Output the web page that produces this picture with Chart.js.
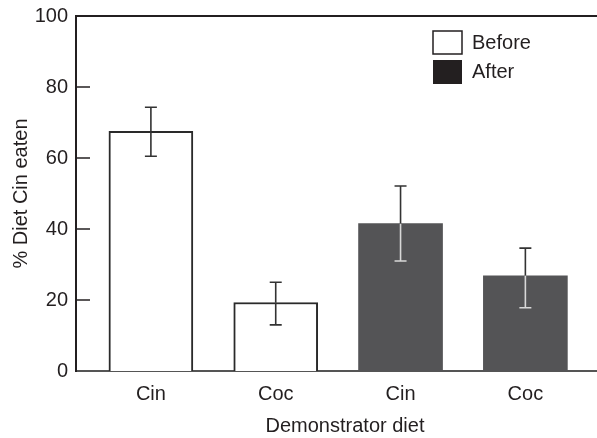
<!DOCTYPE html>
<html lang="en">
<head>
  <meta charset="UTF-8">
  <title>Demonstrator diet</title>
  <script src="https://cdn.jsdelivr.net/npm/chart.js"></script>
  <style>
    html, body { margin: 0; padding: 0; background: #fff; overflow: hidden; }
    canvas { display: block; }
  </style>
</head>
<body>
  <canvas id="dietChart" width="614" height="438"></canvas>

<script>
// data
const categories = ['Cin', 'Coc', 'Cin', 'Coc'];
const groupLabels = ['Before', 'After'];
const beforeValues = [67.5, 19.3];
const afterValues = [41.5, 26.8];
const errLow = [60.5, 13.0, 31.0, 17.8];
const errHigh = [74.3, 25.0, 52.1, 34.6];
const yTicks = [0, 20, 40, 60, 80, 100];

const FONT = '"Liberation Sans", Arial, Helvetica, sans-serif';
const INK = '#231f20';

const beforeData = beforeValues.map((v, i) => ({ x: i + 1, y: v }));
const afterData = afterValues.map((v, i) => ({ x: i + 3, y: v }));
const allValues = beforeValues.concat(afterValues);

// error bars, inward y ticks, top frame line and legend
const extras = {
  id: 'extras',
  afterDatasetsDraw(chart) {
    const ctx = chart.ctx;
    const xs = chart.scales.x, ys = chart.scales.y;
    const area = chart.chartArea;
    ctx.save();
    ctx.lineWidth = 1.6;
    allValues.forEach((v, i) => {
      const x = xs.getPixelForValue(i + 1);
      const yl = ys.getPixelForValue(errLow[i]);
      const yh = ys.getPixelForValue(errHigh[i]);
      const ym = ys.getPixelForValue(v);
      const after = i >= beforeValues.length;
      // upper part (above bar top) dark
      ctx.strokeStyle = '#333';
      ctx.beginPath();
      ctx.moveTo(x, yh); ctx.lineTo(x, ym);
      ctx.moveTo(x - 6, yh); ctx.lineTo(x + 6, yh);
      ctx.stroke();
      // lower part inside the bar
      ctx.strokeStyle = after ? '#d8d8d8' : '#333';
      ctx.beginPath();
      ctx.moveTo(x, ym); ctx.lineTo(x, yl);
      ctx.moveTo(x - 6, yl); ctx.lineTo(x + 6, yl);
      ctx.stroke();
    });

    // inward tick marks
    ctx.strokeStyle = INK;
    ctx.lineWidth = 1.5;
    yTicks.forEach(t => {
      if (t <= 0 || t >= 100) return;
      const y = ys.getPixelForValue(t);
      ctx.beginPath();
      ctx.moveTo(area.left, y); ctx.lineTo(area.left + 14, y);
      ctx.stroke();
    });

    // top frame line
    ctx.lineWidth = 2;
    ctx.beginPath();
    ctx.moveTo(area.left - 1, area.top); ctx.lineTo(area.right, area.top);
    ctx.stroke();

    // legend
    ctx.fillStyle = '#fff';
    ctx.fillRect(433, 31, 29, 23);
    ctx.lineWidth = 1.5;
    ctx.strokeRect(433, 31, 29, 23);
    ctx.fillStyle = INK;
    ctx.fillRect(433, 60, 29, 24);
    ctx.font = '20px ' + FONT;
    ctx.textBaseline = 'middle';
    ctx.textAlign = 'left';
    ctx.fillText(groupLabels[0], 472, 43);
    ctx.fillText(groupLabels[1], 472, 72);
    ctx.restore();
  }
};

new Chart(document.getElementById('dietChart'), {
  type: 'bar',
  data: {
    datasets: [
      {
        label: groupLabels[0],
        data: beforeData,
        backgroundColor: '#ffffff',
        borderColor: '#2a2a2a',
        borderWidth: 2
      },
      {
        label: groupLabels[1],
        data: afterData,
        backgroundColor: '#545456',
        borderWidth: 0
      }
    ]
  },
  options: {
    responsive: false,
    animation: false,
    grouped: false,
    barThickness: 84,
    layout: { padding: { top: 16, left: 0, right: 0, bottom: 0 } },
    plugins: {
      legend: { display: false },
      tooltip: { enabled: false }
    },
    scales: {
      x: {
        type: 'linear',
        offset: false,
        min: 0.4,
        max: 4.71,
        afterBuildTicks: s => { s.ticks = categories.map((c, i) => ({ value: i + 1 })); },
        ticks: {
          callback: v => categories[v - 1],
          font: { family: FONT, size: 20 },
          color: INK,
          padding: 3,
          maxRotation: 0
        },
        grid: { display: false },
        border: { color: '#555', width: 2 },
        title: {
          display: true,
          text: 'Demonstrator diet',
          font: { family: FONT, size: 20 },
          color: INK,
          padding: { top: 5, bottom: 0 }
        }
      },
      y: {
        min: 0,
        max: 100,
        afterBuildTicks: s => { s.ticks = yTicks.map(v => ({ value: v })); },
        afterFit: s => { s.width = 76; s.paddingTop = 0; s.paddingBottom = 0; },
        ticks: {
          font: { family: FONT, size: 20 },
          color: INK,
          padding: 8
        },
        grid: { display: false, drawTicks: false },
        border: { color: INK, width: 2 },
        title: {
          display: true,
          text: '% Diet Cin eaten',
          font: { family: FONT, size: 20 },
          color: INK,
          padding: { top: 9, bottom: 0 }
        }
      }
    }
  },
  plugins: [extras]
});
</script>
</body>
</html>
